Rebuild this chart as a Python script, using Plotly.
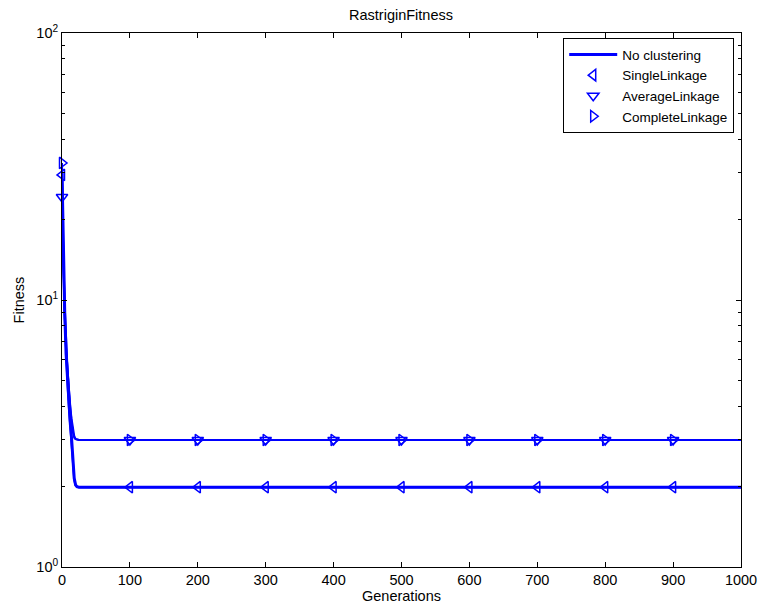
import plotly.graph_objects as go

generations = [0, 1, 2, 4, 6, 8, 10, 12, 14, 16, 18, 20, 22, 25, 30,
               100, 200, 300, 400, 500, 600, 700, 800, 900, 1000]

no_clustering = [30.0, 20.0, 14.0, 9.0, 6.3, 5.0, 4.1, 3.5, 3.05, 2.45, 2.15, 2.03, 2.0, 1.99, 1.99,
                 1.99, 1.99, 1.99, 1.99, 1.99, 1.99, 1.99, 1.99, 1.99, 1.99]
single_linkage = [29.4, 19.0, 13.5, 8.6, 6.2, 4.9, 4.0, 3.4, 3.0, 2.4, 2.12, 2.02, 2.0, 1.99, 1.99,
                  1.99, 1.99, 1.99, 1.99, 1.99, 1.99, 1.99, 1.99, 1.99, 1.99]
average_linkage = [24.3, 17.5, 13.0, 8.8, 6.6, 5.4, 4.6, 4.0, 3.6, 3.3, 3.1, 3.02, 3.0, 2.99, 2.99,
                   2.99, 2.99, 2.99, 2.99, 2.99, 2.99, 2.99, 2.99, 2.99, 2.99]
complete_linkage = [32.6, 21.0, 14.5, 9.5, 7.0, 5.6, 4.7, 4.0, 3.5, 3.2, 3.05, 3.01, 3.0, 2.99, 2.99,
                    2.99, 2.99, 2.99, 2.99, 2.99, 2.99, 2.99, 2.99, 2.99, 2.99]

marker_generations = [0, 100, 200, 300, 400, 500, 600, 700, 800, 900]

y_tick_vals = [1, 10, 100]
y_tick_text = ["10<sup>0</sup>", "10<sup>1</sup>", "10<sup>2</sup>"]
x_tick_vals = [0, 100, 200, 300, 400, 500, 600, 700, 800, 900, 1000]

BLUE = "#0000ff"
FONT = "Liberation Sans, Arial, sans-serif"
FS = 14.5

def pick(series):
    return [v for g, v in zip(generations, series) if g in marker_generations]

fig = go.Figure()

for series in [single_linkage, average_linkage, complete_linkage]:
    fig.add_trace(go.Scatter(x=generations, y=series, mode="lines",
                             line=dict(color=BLUE, width=2), showlegend=False,
                             hoverinfo="skip"))

fig.add_trace(go.Scatter(x=generations, y=no_clustering, mode="lines",
                         name="No clustering", line=dict(color=BLUE, width=3)))

for series, sym, name in [(single_linkage, "triangle-left-open", "SingleLinkage"),
                          (average_linkage, "triangle-down-open", "AverageLinkage"),
                          (complete_linkage, "triangle-right-open", "CompleteLinkage")]:
    fig.add_trace(go.Scatter(x=marker_generations, y=pick(series), mode="markers",
                             name=name, cliponaxis=False,
                             marker=dict(symbol=sym, size=10, color=BLUE,
                                         line=dict(color=BLUE, width=1.5))))

fig.update_layout(
    width=761, height=612,
    margin=dict(l=62, r=20, t=33, b=45, autoexpand=False),
    paper_bgcolor="white", plot_bgcolor="white",
    font=dict(family=FONT, size=FS, color="black"),
    title=dict(text="RastriginFitness", x=(62 + 740) / 2 / 761, xref="container", xanchor="center",
               y=1 - 15 / 612, yanchor="middle", font=dict(size=FS)),
    legend=dict(x=0.99, y=0.99, xanchor="right", yanchor="top",
                bordercolor="black", borderwidth=1, bgcolor="white",
                font=dict(size=13.5), tracegroupgap=0, itemwidth=48),
    showlegend=True,
)

fig.update_xaxes(range=[0, 1000], tickvals=x_tick_vals, ticks="inside", ticklen=5,
                 tickcolor="black", showline=True, linecolor="black", linewidth=1,
                 mirror="ticks", showgrid=False, zeroline=False, automargin=False,
                 title=dict(text="Generations", standoff=2, font=dict(size=FS)),
                 tickfont=dict(size=FS))
fig.update_yaxes(type="log", range=[0, 2], tickvals=y_tick_vals, ticktext=y_tick_text,
                 ticks="inside", ticklen=5, tickcolor="black", showline=True,
                 linecolor="black", linewidth=1, mirror="ticks", showgrid=False,
                 zeroline=False, automargin=False,
                 minor=dict(tickvals=[2, 3, 4, 5, 6, 7, 8, 9, 20, 30, 40, 50, 60, 70, 80, 90],
                            ticks="inside", ticklen=3, tickcolor="black", showgrid=False),
                 title=dict(text="Fitness", standoff=8, font=dict(size=FS)),
                 tickfont=dict(size=FS))

fig.write_html("out.html")
